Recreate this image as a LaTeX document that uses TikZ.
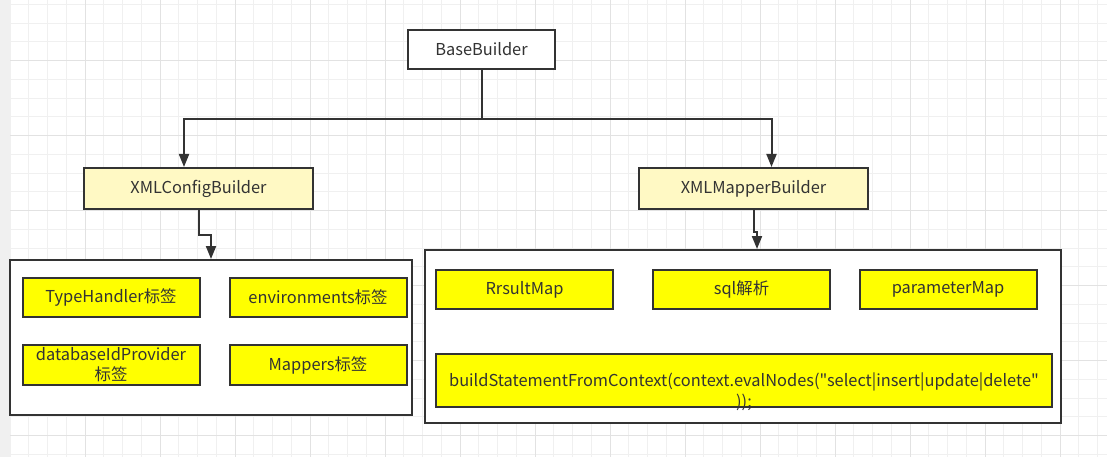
\documentclass[tikz,border=0pt]{standalone}
\usepackage{fontspec}
\setmainfont{Noto Sans CJK SC}[Ligatures=TeXOff]
\usepackage{tikz}
\usetikzlibrary{arrows.meta, calc, positioning}
\definecolor{gridminor}{HTML}{F0F0F0}
\definecolor{gridmajor}{HTML}{E2E2E2}
\definecolor{edgegrey}{HTML}{333333}
\definecolor{paleyellow}{HTML}{FFF9C4}
\definecolor{brightyellow}{HTML}{FFFF00}

\begin{document}
\begin{tikzpicture}[x=1pt, y=-1pt]%{{{
        % page and grid
        \useasboundingbox (0, 0) rectangle (1107, 457);
        \fill [white] (0, 0) rectangle (1107, 457);
        \fill [black!6] (0, 0) rectangle (10, 457);

        \tikzstyle{gm} = [draw=gridminor, line width=0.9pt];
        \tikzstyle{gM} = [draw=gridmajor, line width=0.9pt];
        \foreach \i in {0, ..., 58}{
            \draw [gm] (10 + \i*18.75, 0) -- (10 + \i*18.75, 457);
        }
        \foreach \j in {0, ..., 24}{
            \draw [gm] (10, 4.3 + \j*18.75) -- (1107, 4.3 + \j*18.75);
        }
        \foreach \i in {1, ..., 14}{
            \draw [gM] (10 + \i*75, 0) -- (10 + \i*75, 457);
        }
        \foreach \j in {0, ..., 5}{
            \draw [gM] (10, 60.6 + \j*75) -- (1107, 60.6 + \j*75);
        }

        % styles
        \tikzstyle{bx} = [draw=edgegrey, line width=2pt, inner sep=2pt,
            text=edgegrey, font=\fontsize{16.4}{20}\selectfont, align=center];
        \tikzstyle{topbox} = [bx, fill=white, minimum width=147, minimum height=39];
        \tikzstyle{midbox} = [bx, fill=paleyellow, minimum width=229, minimum height=41];
        \tikzstyle{framebox} = [bx, fill=white];
        \tikzstyle{ybox} = [bx, fill=brightyellow, minimum width=177, minimum height=39];
        \tikzstyle{arr} = [draw=edgegrey, line width=2pt,
            -{Triangle[length=13pt, width=10pt]}];

        \coordinate (R) at (481.5, 49.5);
        \coordinate (C) at (198.5, 188.5);
        \coordinate (M) at (753.5, 188.5);
        \coordinate (L) at (211, 337.5);
        \coordinate (K) at (743, 336.5);

        \node [topbox] (base) at (R) {BaseBuilder};
        \node [midbox] (cfg) at (C) {XMLConfigBuilder};
        \node [midbox] (mapper) at (M) {XMLMapperBuilder};

        % left group
        \node [framebox, minimum width=402, minimum height=155] (lbox) at (L) { };
        \node [ybox] (typeh) at ($(L) + (-100, -40)$) {TypeHandler标签};
        \node [ybox] (envs)  at ($(L) + ( 107, -40)$) {environments标签};
        \node [ybox, minimum height=40] (dbid) at ($(L) + (-100, 27.5)$) {databaseIdProvider\\标签};
        \node [ybox, minimum height=40] (maps) at ($(L) + ( 107, 27.5)$) {Mappers标签};

        % right group
        \node [framebox, minimum width=636, minimum height=173] (rbox) at (K) { };
        \node [ybox] (rmap) at ($(K) + (-218.5, -47)$) {RrsultMap};
        \node [ybox] (sqlp) at ($(K) + (  -1.5, -47)$) {sql解析};
        \node [ybox] (pmap) at ($(K) + ( 205,   -47)$) {parameterMap};
        \node [ybox, minimum width=616, minimum height=53] (build) at ($(K) + (1, 44)$) { };
        \node [text=edgegrey, font=\fontsize{16.4}{21}\selectfont, align=center,
            inner sep=0pt] (buildtxt) at ($(build.center) + (0, 11.5)$)
            {buildStatementFromContext(context.evalNodes("select|insert|update|delete"\\));};

        % connectors
        \coordinate (split) at ($(base.south) + (0, 49)$);
        \draw [draw=edgegrey, line width=2pt] (base.south) -- (split);
        \draw [arr] (split) -| ($(cfg.north) + (-14.5, 0)$);
        \draw [arr] (split) -| ($(mapper.north) + (18, 0)$);
        \draw [arr] (cfg.south) -- ++(0, 25) -| (lbox.north);
        \draw [arr] (mapper.south) -- ++(0, 22) -| ($(rbox.north) + (14, 0)$);
    \end{tikzpicture}%}}}
\end{document}
